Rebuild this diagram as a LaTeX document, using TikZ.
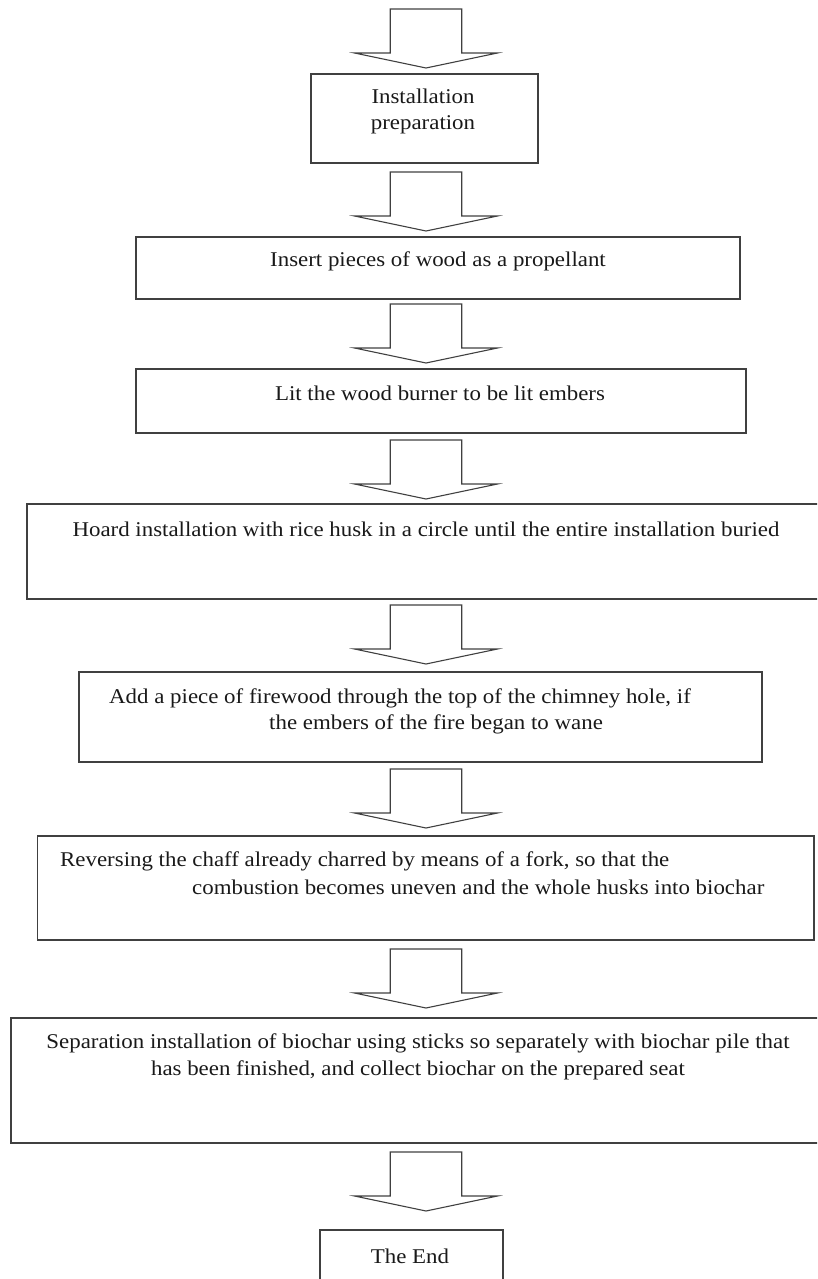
\documentclass[tikz,border=0pt]{standalone}
\usepackage{fontspec}
\setmainfont{Liberation Serif}[FakeStretch=1.09]
\begin{document}
\begin{tikzpicture}[x=1pt,y=-1pt,
  frame/.style={draw=black!75, line width=1.1pt, inner sep=0pt},
  txt/.style={inner sep=0pt, text=black!90, font=\fontsize{21}{26}\selectfont},
  pics/blockarrow/.style={code={
    \draw[draw=black!75, line width=1.1pt, line join=miter]
      (-35.75,0) -- (-35.75,44) -- (-71.5,44) -- (0,59) -- (71.5,44) -- (35.75,44) -- (35.75,0) -- cycle;
  }}]
\useasboundingbox (0,0) rectangle (817,1279);
\clip (0,0) rectangle (817,1279);
% boxes
\node[frame, minimum width=227pt, minimum height=89pt] (b1) at (424.5,118.5) {};
\node[frame, minimum width=604pt, minimum height=62pt] (b2) at (438,268) {};
\node[frame, minimum width=610pt, minimum height=64pt] (b3) at (441,401) {};
\node[frame, minimum width=803pt, minimum height=95pt] (b4) at (428.5,551.5) {};
\node[frame, minimum width=683pt, minimum height=90pt] (b5) at (420.5,717) {};
\node[frame, minimum width=776.5pt, minimum height=104pt] (b6) at (425.75,888) {};
\node[frame, minimum width=819pt, minimum height=125pt] (b7) at (420.5,1080.5) {};
\node[frame, minimum width=183pt, minimum height=70pt] (b8) at (411.5,1265) {};
% texts
\node[txt, anchor=base] (t1a) at (423,104) {Installation};
\node[txt, anchor=base] (t1b) at (423,129) {preparation};
\node[txt] (t2) at (438,261) {Insert pieces of wood as a propellant};
\node[txt] (t3) at (440,393) {Lit the wood burner to be lit embers};
\node[txt] (t4) at (426,529) {Hoard installation with rice husk in a circle until the entire installation buried};
\node[txt, anchor=west] (t5a) at (109,698) {Add a piece of firewood through the top of the chimney hole, if};
\node[txt, anchor=west] (t5b) at (269,724) {the embers of the fire began to wane};
\node[txt, anchor=west] (t6a) at (60,861) {Reversing the chaff already charred by means of a fork, so that the};
\node[txt, anchor=west] (t6b) at (192,887) {combustion becomes uneven and the whole husks into biochar};
\node[txt] (t7a) at (418,1043) {Separation installation of biochar using sticks so separately with biochar pile that};
\node[txt] (t7b) at (418,1070) {has been finished, and collect biochar on the prepared seat};
\node[txt] (t8) at (410,1256) {The End};
% block arrows
\pic at (426,9) {blockarrow};
\pic at (426,172) {blockarrow};
\pic at (426,304) {blockarrow};
\pic at (426,440) {blockarrow};
\pic at (426,605) {blockarrow};
\pic at (426,769) {blockarrow};
\pic at (426,949) {blockarrow};
\pic at (426,1152) {blockarrow};
\end{tikzpicture}
\end{document}
